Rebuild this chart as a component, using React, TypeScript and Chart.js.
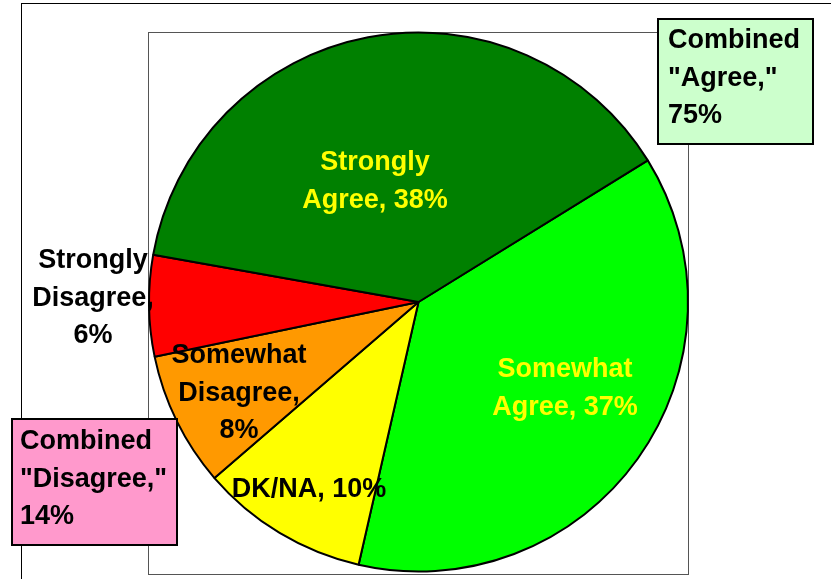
import React, { useEffect, useRef } from "react";
import { Chart, registerables } from "chart.js";

Chart.register(...registerables);

// ---- data ----
const categories = ["Somewhat Agree", "DK/NA", "Somewhat Disagree", "Strongly Disagree", "Strongly Agree"];
const values = [37, 10, 8, 6, 38];
const sliceColors = ["#00FF00", "#FFFF00", "#FF9900", "#FF0000", "#008000"];
const labelLines = [
  ["Somewhat", "Agree, 37%"],
  ["DK/NA, 10%"],
  ["Somewhat", "Disagree,", "8%"],
  ["Strongly", "Disagree,", "6%"],
  ["Strongly", "Agree, 38%"],
];
const labelColors = ["#FFFF00", "#000000", "#000000", "#000000", "#FFFF00"];
const agreeBoxLines = ["Combined", "\"Agree,\"", "75%"];
const disagreeBoxLines = ["Combined", "\"Disagree,\"", "14%"];

// ---- layout (styles / positions) ----
const W = 831;
const H = 579;
const FONT = "bold 27px 'Liberation Sans', Arial, sans-serif";
const LINE = 37.5;
const labelAnchors = [
  { x: 565, y: 377 },
  { x: 309, y: 497 },
  { x: 239, y: 363 },
  { x: 93, y: 268 },
  { x: 375, y: 170 },
];

const framePlugin = {
  id: "frame",
  beforeDraw(chart: any) {
    const ctx = chart.ctx;
    ctx.save();
    ctx.fillStyle = "#ffffff";
    ctx.fillRect(0, 0, W, H);
    ctx.strokeStyle = "#000000";
    ctx.lineWidth = 1;
    ctx.strokeRect(21.5, 3.5, W + 10, H + 10);
    ctx.strokeStyle = "#555555";
    ctx.strokeRect(148.5, 32.5, 540, 542);
    ctx.restore();
  },
  afterDraw(chart: any) {
    const ctx = chart.ctx;
    ctx.save();
    ctx.font = FONT;
    // slice labels
    ctx.textAlign = "center";
    ctx.textBaseline = "alphabetic";
    labelLines.forEach((lines, i) => {
      const a = labelAnchors[i];
      ctx.fillStyle = labelColors[i];
      lines.forEach((t, j) => ctx.fillText(t, a.x, a.y + j * LINE));
    });
    // boxes
    const box = (x: number, y: number, w: number, h: number, bg: string, lines: string[], tx: number, ty: number) => {
      ctx.fillStyle = bg;
      ctx.fillRect(x, y, w, h);
      ctx.strokeStyle = "#000000";
      ctx.lineWidth = 2;
      ctx.strokeRect(x, y, w, h);
      ctx.fillStyle = "#000000";
      ctx.textAlign = "left";
      lines.forEach((t, j) => ctx.fillText(t, tx, ty + j * LINE));
    };
    box(658, 19, 155, 125, "#CCFFCC", agreeBoxLines, 668, 48);
    box(12, 419, 165, 126, "#FF99CC", disagreeBoxLines, 20, 449);
    ctx.restore();
  },
};

export default function App() {
  const ref = useRef<HTMLCanvasElement | null>(null);
  useEffect(() => {
    if (!ref.current) return;
    const chart = new Chart(ref.current, {
      type: "pie",
      data: {
        labels: categories,
        datasets: [
          {
            data: values,
            backgroundColor: sliceColors,
            borderColor: "#000000",
            borderWidth: 2,
          },
        ],
      },
      options: {
        responsive: false,
        animation: false,
        rotation: 58.3,
        layout: { padding: { left: 148, right: 142, top: 31, bottom: 6 } },
        plugins: {
          legend: { display: false },
          tooltip: { enabled: false },
          title: { display: false },
        },
      },
      plugins: [framePlugin],
    });
    return () => chart.destroy();
  }, []);
  return (
    <div style={{ position: "fixed", left: 0, top: 0, width: W, height: H, background: "#fff" }}>
      <canvas ref={ref} width={W} height={H} style={{ display: "block", width: W, height: H }} />
    </div>
  );
}
